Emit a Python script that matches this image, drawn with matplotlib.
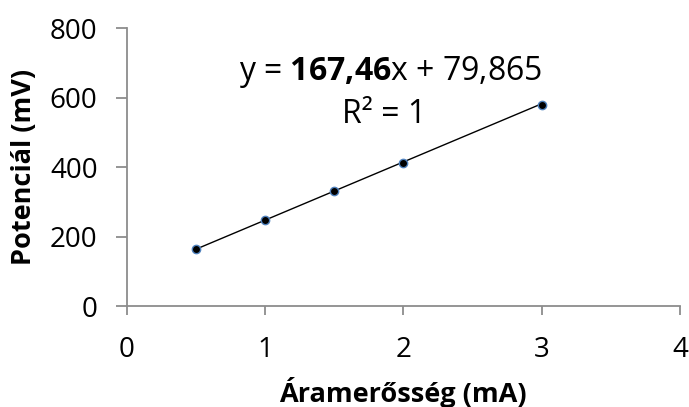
import matplotlib
matplotlib.use("Agg")
import matplotlib.pyplot as plt
import numpy as np

current = [0.5, 1.0, 1.5, 2.0, 3.0]          # mA
potential = [165, 247, 331, 413, 580]        # mV
slope = 167.46
intercept = 79.865

plt.rcParams['font.family'] = ['Open Sans', 'DejaVu Sans']
plt.rcParams['mathtext.fontset'] = 'custom'
plt.rcParams['mathtext.rm'] = 'Open Sans'
plt.rcParams['mathtext.bf'] = 'Open Sans:bold'

fig = plt.figure(figsize=(6.89, 4.07), dpi=100)
ax = fig.add_axes([0.184, 0.248, 0.803, 0.683])

xs = np.array([min(current), max(current)])
ax.plot(xs, slope * xs + intercept, color='black', lw=1.0, zorder=2)
ax.plot(current, potential, 'o', ms=6, mfc='black', mec='#4f81bd', mew=1.0, zorder=3)

ax.set_xlim(0, 4)
ax.set_ylim(0, 800)
ax.set_xticks([0, 1, 2, 3, 4])
ax.set_yticks([0, 200, 400, 600, 800])

for s in ['top', 'right']:
    ax.spines[s].set_visible(False)
for s in ['left', 'bottom']:
    ax.spines[s].set_color('#8c8c8c')
    ax.spines[s].set_linewidth(1.3)
ax.tick_params(width=1.3, color='#8c8c8c', labelsize=20, labelcolor='black')
ax.tick_params(axis='x', direction='out', length=6.5, pad=15)
ax.tick_params(axis='y', direction='out', length=8, pad=13)

ax.set_xlabel('Áramerősség (mA)', fontsize=19.5, fontweight='bold', va='baseline')
ax.set_ylabel('Potenciál (mV)', fontsize=19.5, fontweight='bold', va='center')
ax.xaxis.set_label_coords(0.585, 0.0125, transform=fig.transFigure)
ax.yaxis.set_label_coords(0.035, 0.591, transform=fig.transFigure)

ax.text(1.906, 650, r'y = $\mathbf{167{,}46}$x + 79,865', fontsize=23,
        ha='center', va='baseline')
ax.text(1.86, 527, 'R² = 1', fontsize=23, ha='center', va='baseline')

fig.savefig('out.png', dpi=100)
